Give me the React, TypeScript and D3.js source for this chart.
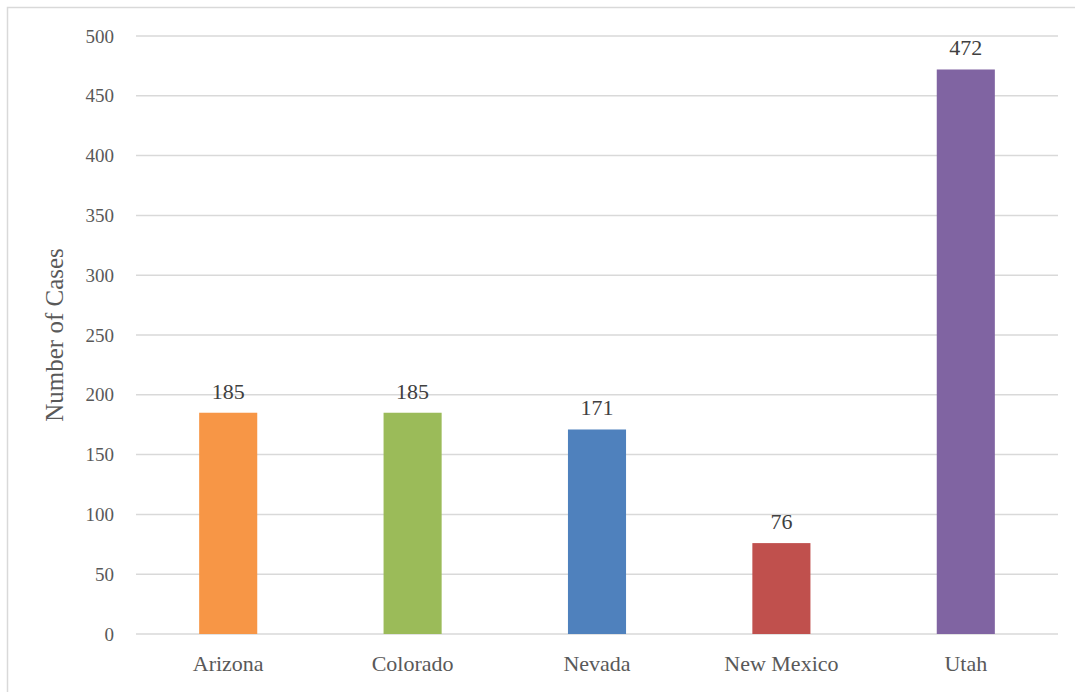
import { useEffect, useRef } from "react";
import * as d3 from "d3";

const states = ["Arizona", "Colorado", "Nevada", "New Mexico", "Utah"];
const cases = [185, 185, 171, 76, 472];
const barColors = ["#F79646", "#9BBB59", "#4F81BD", "#C0504D", "#8064A2"];
const yTicks = [0, 50, 100, 150, 200, 250, 300, 350, 400, 450, 500];

const W = 1075;
const H = 692;
const FONT = "'Times New Roman', 'Liberation Serif', serif";

const App: React.FC = () => {
  const svgRef = useRef<SVGSVGElement>(null);

  useEffect(() => {
    if (!svgRef.current) return;
    const svg = d3.select(svgRef.current);
    svg.selectAll("*").remove();

    const margin = { left: 136, right: 17, top: 36, bottom: 58 };

    const x = d3
      .scaleBand<string>()
      .domain(states)
      .range([margin.left, W - margin.right])
      .paddingInner(0.685)
      .paddingOuter(0.3425);

    const y = d3
      .scaleLinear()
      .domain([0, 500])
      .range([H - margin.bottom, margin.top]);

    // outer chart frame
    svg
      .append("rect")
      .attr("x", 7.5)
      .attr("y", 7.5)
      .attr("width", W + 20)
      .attr("height", H + 20)
      .attr("fill", "#ffffff")
      .attr("stroke", "#D9D9D9")
      .attr("stroke-width", 1.5);

    // gridlines
    svg
      .selectAll(".grid")
      .data(yTicks)
      .enter()
      .append("line")
      .attr("x1", margin.left)
      .attr("x2", W - margin.right)
      .attr("y1", (d) => y(d))
      .attr("y2", (d) => y(d))
      .attr("stroke", "#D9D9D9")
      .attr("stroke-width", 1.5);

    // tick labels
    svg
      .selectAll(".ytick")
      .data(yTicks)
      .enter()
      .append("text")
      .attr("x", 114)
      .attr("y", (d) => y(d))
      .attr("dy", "0.35em")
      .attr("text-anchor", "end")
      .attr("fill", "#595959")
      .style("font-family", FONT)
      .style("font-size", "19px")
      .text((d) => d);

    // bars
    svg
      .selectAll(".bar")
      .data(cases)
      .enter()
      .append("rect")
      .attr("x", (_, i) => x(states[i])!)
      .attr("width", x.bandwidth())
      .attr("y", (d) => y(d))
      .attr("height", (d) => y(0) - y(d))
      .attr("fill", (_, i) => barColors[i]);

    // value labels
    svg
      .selectAll(".val")
      .data(cases)
      .enter()
      .append("text")
      .attr("x", (_, i) => x(states[i])! + x.bandwidth() / 2)
      .attr("y", (d) => y(d) - 14)
      .attr("text-anchor", "middle")
      .attr("fill", "#404040")
      .style("font-family", FONT)
      .style("font-size", "22px")
      .text((d) => d);

    // category labels
    svg
      .selectAll(".cat")
      .data(states)
      .enter()
      .append("text")
      .attr("x", (d) => x(d)! + x.bandwidth() / 2)
      .attr("y", 671)
      .attr("text-anchor", "middle")
      .attr("fill", "#595959")
      .style("font-family", FONT)
      .style("font-size", "22px")
      .text((d) => d);

    // axis title
    const cy = (y(0) + y(500)) / 2;
    svg
      .append("text")
      .attr("transform", `translate(63, ${cy}) rotate(-90)`)
      .attr("text-anchor", "middle")
      .attr("fill", "#595959")
      .style("font-family", FONT)
      .style("font-size", "25px")
      .text("Number of Cases");
  }, []);

  return (
    <svg
      ref={svgRef}
      width={W}
      height={H}
      style={{ position: "fixed", top: 0, left: 0, background: "#ffffff" }}
    />
  );
};

export default App;
